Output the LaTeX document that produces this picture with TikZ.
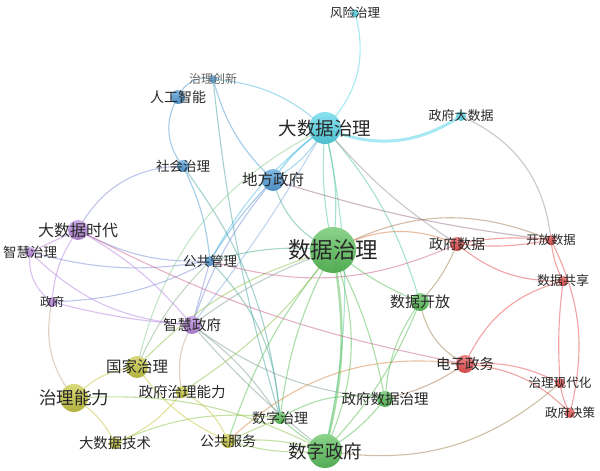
\documentclass[tikz,border=0pt]{standalone}
\usepackage{fontspec}
\newfontfamily\cjk{Noto Sans CJK SC}
\definecolor{cyanC}{RGB}{78,212,232}
\definecolor{blueC}{RGB}{72,152,214}
\definecolor{greenC}{RGB}{84,190,84}
\definecolor{redC}{RGB}{230,72,72}
\definecolor{purpC}{RGB}{182,130,222}
\definecolor{yelC}{RGB}{198,198,58}
\definecolor{labC}{RGB}{40,40,40}
\tikzset{
  ln/.style={draw=#1, line width=1.1pt, draw opacity=0.5},
  vl/.style={bend left=#1},
  vr/.style={bend right=#1},
  dot/.style={circle, inner sep=0pt, draw=none, top color=#1!70!white, bottom color=#1!88!black, opacity=0.95},
  lab/.style={text=labC, inner sep=0pt}
}
\newcommand\kwnode[5]{%
  \node[dot=#3, minimum size=#2pt] (#1c) at (#1) {};
  \node[lab, font=\cjk\fontsize{#4}{#4}\selectfont] (#1l) at (#1) {#5};}
\begin{document}
\begin{tikzpicture}[x=1pt,y=1pt]
\fill[white] (0,0) rectangle (600,471);
\useasboundingbox (0,0) rectangle (600,471);
% node positions
\coordinate (FX) at (355,458);
\coordinate (CX) at (213,392);
\coordinate (RG) at (178,374);
\coordinate (DZ) at (325,343);
\coordinate (ZD) at (461,355);
\coordinate (SH) at (183,305);
\coordinate (DF) at (273,291);
\coordinate (DS) at (78,241);
\coordinate (ZH) at (30,219);
\coordinate (GG) at (210,210);
\coordinate (SZ) at (333,221);
\coordinate (ZS) at (457,227);
\coordinate (KF) at (551,231);
\coordinate (GX) at (563,190);
\coordinate (SK) at (420,169);
\coordinate (ZF) at (52,169);
\coordinate (ZZ) at (192,146);
\coordinate (DW) at (465,107);
\coordinate (GJ) at (137,104);
\coordinate (XD) at (560,88);
\coordinate (NL) at (74,73);
\coordinate (ZN) at (182,79);
\coordinate (ZSZ) at (385,72);
\coordinate (JC) at (570,58);
\coordinate (SZL) at (280,53);
\coordinate (JS) at (115,28);
\coordinate (GF) at (228,30);
\coordinate (SF) at (325,20);
% ---- edges ----
% cyan
\draw[ln=cyanC] (DZ) to[vr=30] (FX);
\draw[ln=cyanC, line width=3pt, draw opacity=0.5] (DZ) to[vr=28] (ZD);
\draw[ln=cyanC!60!blueC] (CX) to[vl=18] (DZ);
\draw[ln=cyanC!60!blueC, line width=1.6pt] (DZ) to[vr=10] (DF);
\draw[ln=cyanC!50!blueC] (DZ) to[vl=14] (DF);
\draw[ln=cyanC!50!greenC] (DZ) to[vr=8] (SZ);
\draw[ln=cyanC!50!greenC] (DZ) to[vl=10] (SZ);
\draw[ln=cyanC!50!greenC] (DZ) to[vl=12] (SK);
\draw[ln=cyanC!50!greenC] (DZ) to[vl=12] (SF);
\draw[ln=cyanC!60!blueC] (DZ) to[vr=12] (GG);
\draw[ln=cyanC!50!purpC] (DZ) to[vl=4] (ZZ);
\draw[ln=cyanC!50!redC] (DZ) to[vr=8] (ZS);
% blue
\draw[ln=blueC] (RG) to[vl=40] (CX);
\draw[ln=blueC] (RG) to[vr=35] (SH);
\draw[ln=blueC] (CX) to[vr=15] (DF);
\draw[ln=blueC!60!greenC] (CX) to[vr=5] (SZL);
\draw[ln=blueC!50!purpC] (SH) to[vr=30] (DS);
\draw[ln=blueC] (SH) to[vl=10] (GG);
\draw[ln=blueC!60!greenC] (SH) to[vl=15] (SZL);
\draw[ln=blueC!50!greenC] (DF) to[vr=25] (SZ);
\draw[ln=blueC] (DF) to[vr=6] (GG);
\draw[ln=blueC!60!purpC] (DF) to[vr=10] (ZZ);
\draw[ln=blueC!50!redC] (DF) to[vr=5] (KF);
\draw[ln=blueC!50!purpC] (GG) to[vl=12] (ZH);
\draw[ln=blueC!50!purpC] (GG) to[vl=12] (ZF);
\draw[ln=blueC!50!purpC] (GG) to[vl=15] (DS);
\draw[ln=blueC!50!greenC] (GG) to[vl=20] (SZL);
\draw[ln=blueC!50!purpC] (GG) to (ZZ);
\draw[ln=blueC!40!greenC] (GG) to[vl=10] (SZ);
\draw[ln=blueC!50!yelC] (GG) to[vr=10] (GJ);
% green
\draw[ln=greenC, line width=2.4pt] (SZ) to[vl=12] (SF);
\draw[ln=greenC] (SZ) to[vl=22] (SF);
\draw[ln=greenC] (SZ) to[vr=8] (SK);
\draw[ln=greenC] (SZ) to[vl=8] (ZSZ);
\draw[ln=greenC] (SZ) to[vr=10] (SZL);
\draw[ln=greenC] (SZ) to[vr=10] (GF);
\draw[ln=greenC!50!purpC] (SZ) to[vr=8] (ZZ);
\draw[ln=redC!60!yelC] (SZ) to[vl=25] (ZS);
\draw[ln=greenC!40!redC] (SZ) to[vl=25] (KF);
\draw[ln=greenC!50!yelC] (SZ) to[vr=15] (GJ);
\draw[ln=greenC!50!redC] (SK) to[vr=10] (ZS);
\draw[ln=greenC!50!redC] (SK) to[vr=25] (DW);
\draw[ln=greenC] (SK) to[vr=15] (ZSZ);
\draw[ln=greenC] (SK) to[vl=10] (SF);
\draw[ln=greenC] (ZSZ) to[vr=20] (SZL);
\draw[ln=greenC] (ZSZ) to[vl=10] (SF);
\draw[ln=greenC!40!redC] (ZSZ) to[vr=10] (DW);
\draw[ln=greenC] (SF) to[vl=5] (SZL);
\draw[ln=greenC!50!yelC] (SF) to[vr=10] (GF);
\draw[ln=greenC!50!yelC] (SF) to[vl=10] (GF);
\draw[ln=greenC!50!redC] (SF) to[vr=25] (XD);
\draw[ln=greenC!50!yelC] (SZL) to (GF);
\draw[ln=greenC!50!yelC] (SZL) to[vr=15] (JS);
\draw[ln=greenC!50!purpC] (SZL) to[vr=10] (ZZ);
% red
\draw[ln=redC] (DW) to[vl=25] (GX);
\draw[ln=redC] (DW) to[vl=15] (XD);
\draw[ln=redC] (DW) to[vl=20] (JC);
\draw[ln=redC!50!yelC] (DW) to[vr=25] (GF);
\draw[ln=redC!50!purpC] (DW) to[vl=8] (DS);
\draw[ln=redC] (ZS) to[vl=8] (KF);
\draw[ln=redC] (ZS) to[vr=8] (KF);
\draw[ln=redC] (ZS) to[vr=20] (GX);
\draw[ln=redC!50!purpC] (ZS) to[vl=20] (GG);
\draw[ln=redC!50!cyanC] (ZD) to[vl=30] (KF);
\draw[ln=redC] (KF) to[vl=20] (JC);
\draw[ln=redC] (KF) to[vr=10] (GX);
\draw[ln=redC] (GX) to[vr=5] (XD);
\draw[ln=redC] (XD) to[vr=10] (JC);
% purple
\draw[ln=purpC] (DS) to (ZH);
\draw[ln=purpC] (DS) to[vr=15] (ZF);
\draw[ln=purpC] (DS) to[vl=10] (ZZ);
\draw[ln=purpC] (ZH) to[vr=20] (ZZ);
\draw[ln=purpC] (ZH) to[vr=30] (ZF);
\draw[ln=purpC] (ZF) to[vr=5] (ZZ);
\draw[ln=purpC!50!yelC] (ZF) to[vr=25] (NL);
\draw[ln=purpC!50!yelC] (ZZ) to[vr=20] (ZN);
\draw[ln=purpC!50!greenC] (ZZ) to[vr=5] (SF);
\draw[ln=purpC!50!greenC] (ZZ) to[vr=15] (ZSZ);
% yellow
\draw[ln=yelC] (NL) to[vl=20] (GJ);
\draw[ln=yelC] (NL) to[vl=15] (JS);
\draw[ln=yelC] (GJ) to[vr=15] (GF);
\draw[ln=yelC!50!cyanC] (GJ) to[vl=25] (DZ);
\draw[ln=yelC] (ZN) to[vl=15] (JS);
\draw[ln=yelC] (ZN) to[vl=20] (GF);
\draw[ln=yelC!50!greenC] (ZN) to[vr=10] (SZ);
\draw[ln=yelC!50!greenC] (NL) to[vl=15] (SF);
% ---- nodes ----
\kwnode{FX}{8}{cyanC}{12.5}{风险治理}
\kwnode{CX}{8}{blueC}{12}{\textcolor{black!60}{治理创新}}
\kwnode{RG}{14}{blueC}{14}{人工智能}
\kwnode{DZ}{32}{cyanC}{18.5}{大数据治理}
\kwnode{ZD}{10}{cyanC}{13}{政府大数据}
\kwnode{SH}{12}{blueC}{13.5}{社会治理}
\kwnode{DF}{22}{blueC}{15.5}{地方政府}
\kwnode{DS}{20}{purpC}{16}{大数据时代}
\kwnode{ZH}{10}{purpC}{13.5}{智慧治理}
\kwnode{GG}{10}{blueC}{13.5}{公共管理}
\kwnode{SZ}{46}{greenC}{22.5}{数据治理}
\kwnode{ZS}{14}{redC}{14}{政府数据}
\kwnode{KF}{10}{redC}{12.3}{开放数据}
\kwnode{GX}{10}{redC}{13}{数据共享}
\kwnode{SK}{18}{greenC}{15}{数据开放}
\kwnode{ZF}{10}{purpC}{12}{政府}
\kwnode{ZZ}{18}{purpC}{14.5}{智慧政府}
\kwnode{DW}{18}{redC}{14.5}{电子政务}
\kwnode{GJ}{22}{yelC}{15.5}{国家治理}
\kwnode{XD}{10}{redC}{12.6}{治理现代化}
\kwnode{NL}{28}{yelC}{17.5}{治理能力}
\kwnode{ZN}{12}{yelC}{14.5}{政府治理能力}
\kwnode{ZSZ}{16}{greenC}{14.5}{政府数据治理}
\kwnode{JC}{10}{redC}{12.5}{政府决策}
\kwnode{SZL}{12}{greenC}{14}{数字治理}
\kwnode{JS}{12}{yelC}{14.4}{大数据技术}
\kwnode{GF}{14}{yelC}{14}{公共服务}
\kwnode{SF}{34}{greenC}{18.5}{数字政府}
\end{tikzpicture}
\end{document}
